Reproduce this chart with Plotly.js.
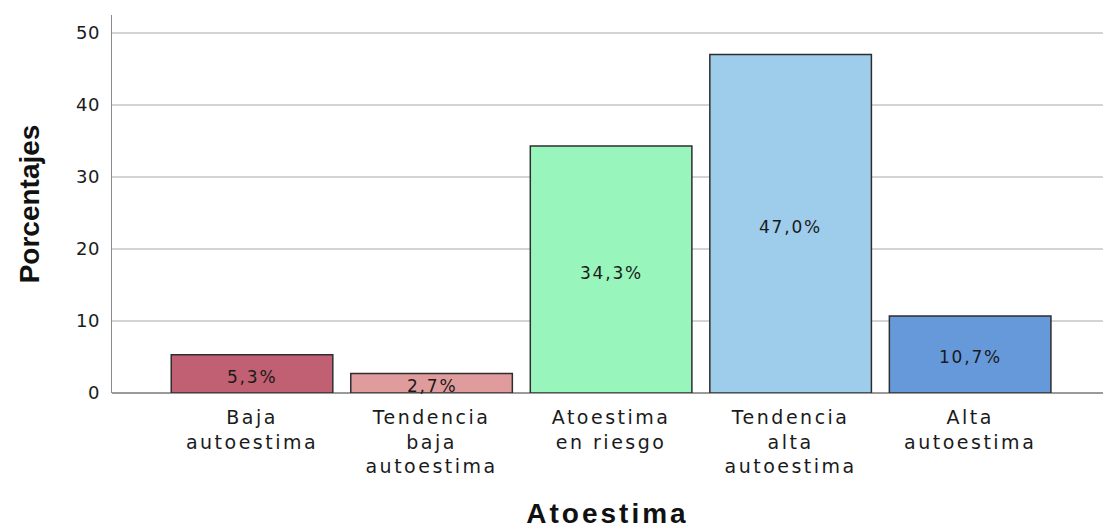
<!DOCTYPE html>
<html>
<head>
<meta charset="utf-8">
<script src="https://cdn.plot.ly/plotly-3.0.1.min.js"></script>
<style>
html, body { margin: 0; padding: 0; background: #fff; }
#chart { width: 1105px; height: 529px; }
.xtick text { letter-spacing: 2.5px; }
.ytick text { letter-spacing: 0.5px; }
.annotation-text { letter-spacing: 1.8px; }
.g-xtitle text { letter-spacing: 3px; }
</style>
</head>
<body>
<div id="chart"></div>
<script>
const categories = ["Baja<br>autoestima", "Tendencia<br>baja<br>autoestima", "Atoestima<br>en riesgo", "Tendencia<br>alta<br>autoestima", "Alta<br>autoestima"];
const values = [5.3, 2.7, 34.3, 47.0, 10.7];
const valueLabels = ["5,3%", "2,7%", "34,3%", "47,0%", "10,7%"];
const barColors = ["#C15F73", "#E09C9C", "#98F6BC", "#9ECCEB", "#6699DA"];
const yTicks = [0, 10, 20, 30, 40, 50];

const trace = {
  type: "bar",
  x: categories,
  y: values,
  width: 0.9,
  marker: { color: barColors, line: { color: "#2e2e2e", width: 1.5 } },
  hoverinfo: "skip"
};

const annotations = categories.map((c, i) => ({
  x: c, y: values[i] / 2, text: valueLabels[i], showarrow: false,
  yshift: -3,
  font: { family: "DejaVu Sans, sans-serif", size: 17, color: "#1a1a1a" }
}));

const layout = {
  width: 1105, height: 529,
  margin: { l: 112, r: 2, t: 15, b: 136 },
  paper_bgcolor: "#fff", plot_bgcolor: "#fff",
  showlegend: false,
  font: { family: "DejaVu Sans, sans-serif", color: "#1a1a1a" },
  xaxis: {
    type: "category",
    range: [-0.78, 4.74],
    showgrid: false,
    showline: false,
    zeroline: false,
    ticks: "outside", ticklen: 7, tickcolor: "rgba(0,0,0,0)",
    tickfont: { family: "DejaVu Sans, sans-serif", size: 19, color: "#1a1a1a" },
    title: { text: "Atoestima", standoff: 34, font: { family: "Liberation Sans, Arial, sans-serif", size: 28, color: "#111", weight: "bold" } },
    automargin: false
  },
  yaxis: {
    range: [0, 52.5],
    tickvals: yTicks,
    ticktext: yTicks.map(String),
    showgrid: true, gridcolor: "#d4d4d4", gridwidth: 1.6,
    showline: true, linecolor: "#8a8a8a", linewidth: 1.5,
    zeroline: true, zerolinecolor: "#9a9a9a", zerolinewidth: 1.5,
    ticks: "outside", ticklen: 7, tickcolor: "rgba(0,0,0,0)",
    tickfont: { family: "DejaVu Sans, sans-serif", size: 18, color: "#1a1a1a" },
    title: { text: "Porcentajes", standoff: 28, font: { family: "Liberation Sans, Arial, sans-serif", size: 28, color: "#111", weight: "bold" } },
    automargin: false
  },
  annotations: annotations,
  bargap: 0.1
};

Plotly.newPlot("chart", [trace], layout, { displayModeBar: false, staticPlot: true });
</script>
</body>
</html>
